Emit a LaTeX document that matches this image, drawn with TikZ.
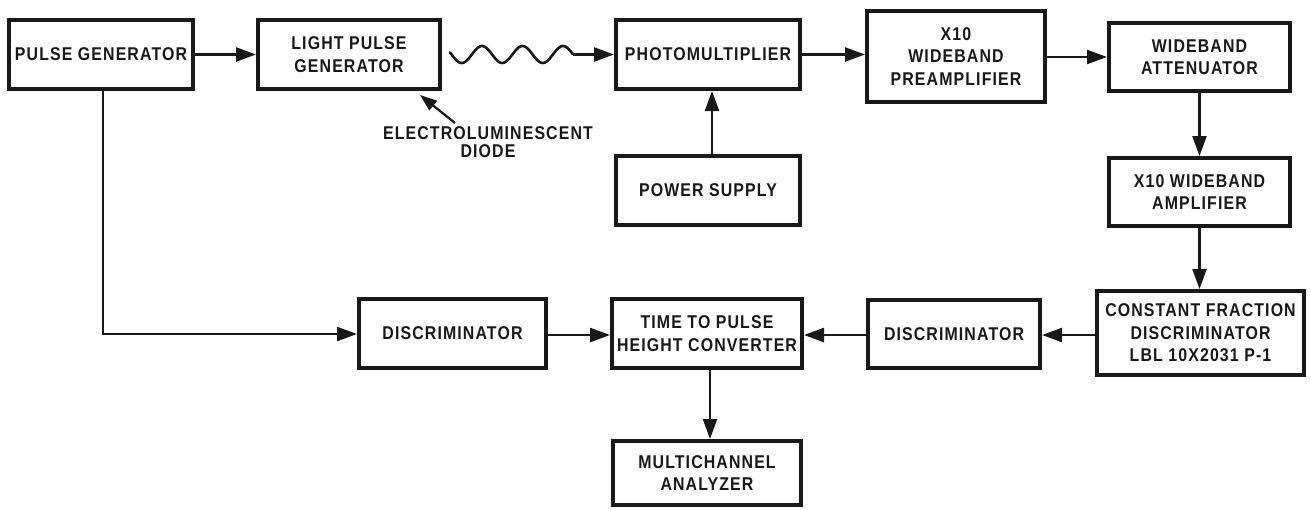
\documentclass[tikz,border=0pt]{standalone}
\usepackage{fontspec}
\setmainfont{Liberation Sans}[FakeStretch=0.86, LetterSpace=6]
\usetikzlibrary{arrows.meta}
\begin{document}
\begin{tikzpicture}[x=1pt,y=-1pt,
  box/.style={draw=black!90, line width=4pt, align=center, inner sep=0pt,
    font=\fontsize{18.5}{22.5}\selectfont\bfseries, text=black!90},
  lbl/.style={align=center, inner sep=0pt, font=\fontsize{18.5}{18.5}\selectfont\bfseries, text=black!90},
  arr/.style={draw=black!90, line width=2.4pt, -{Triangle[length=20pt,width=14pt]}},
  thin arr/.style={draw=black!90, line width=2.2pt, -{Triangle[length=17pt,width=12pt]}},
  wave/.style={draw=black!90, line width=2.6pt, line cap=round},
]
\useasboundingbox[fill=white] (0,0) rectangle (1310,509);

\node[box, minimum width=184pt, minimum height=69pt] (pg) at (101,54.5) {PULSE GENERATOR};
\node[box, minimum width=182pt, minimum height=69pt] (lpg) at (349,54.5) {LIGHT PULSE\\GENERATOR};
\node[box, minimum width=184pt, minimum height=69pt] (pm) at (708,54.5) {PHOTOMULTIPLIER};
\node[box, minimum width=184pt, minimum height=69pt] (ps) at (708,190.5) {POWER SUPPLY};
\node[box, minimum width=178pt, minimum height=91pt] (pre) at (956,56.5) {X10\\WIDEBAND\\PREAMPLIFIER};
\node[box, minimum width=181pt, minimum height=68pt] (att) at (1199.5,57) {WIDEBAND\\ATTENUATOR};
\node[box, minimum width=181pt, minimum height=68pt] (amp) at (1199.5,192) {X10 WIDEBAND\\AMPLIFIER};
\node[box, minimum width=207pt, minimum height=84pt] (cfd) at (1200.5,333) {CONSTANT FRACTION\\DISCRIMINATOR\\LBL 10X2031 P-1};
\node[box, minimum width=172pt, minimum height=68pt] (dr) at (954,334) {DISCRIMINATOR};
\node[box, minimum width=190pt, minimum height=69pt] (tphc) at (707,333.5) {TIME TO PULSE\\HEIGHT CONVERTER};
\node[box, minimum width=187pt, minimum height=69pt] (dl) at (452.5,333.5) {DISCRIMINATOR};
\node[box, minimum width=188pt, minimum height=64pt] (mca) at (707,473) {MULTICHANNEL\\ANALYZER};

\node[lbl] (eld) at (488,142) {ELECTROLUMINESCENT\\DIODE};
\coordinate (eldtail) at (455,123);
\coordinate (eldtip) at (420,95);
\draw[thin arr] (eldtail) -- (eldtip);

% connectors
\draw[arr] (pg.east) -- (lpg.west);
\coordinate (waveend) at (573,54.5);
\draw[wave] plot[domain=450:573, samples=90, smooth] (\x, {54.5 - 8.5*cos(((\x-482)/40.5)*360)});
\draw[arr] (waveend) -- (pm.west);
\draw[arr] (pm.east) -- (pm.east -| pre.west);
\draw[arr] (pre.east |- att.west) -- (att.west);
\draw[arr] (att.south) -- (amp.north);
\draw[arr] (amp.south) -- (amp.south |- cfd.north);
\draw[arr] (cfd.west |- 0,335) -- (dr.east |- 0,335);
\draw[arr] (dr.west |- 0,335) -- (tphc.east |- 0,335);
\draw[arr] (dl.east |- 0,335) -- (tphc.west |- 0,335);
\draw[arr] (pg.south -| 103,0) -- (103,334) -- (dl.west |- 0,334);
\draw[arr] (tphc.south -| 710,0) -- (mca.north -| 710,0);
\draw[arr] (ps.north -| 712,0) -- (pm.south -| 712,0);
\end{tikzpicture}
\end{document}
